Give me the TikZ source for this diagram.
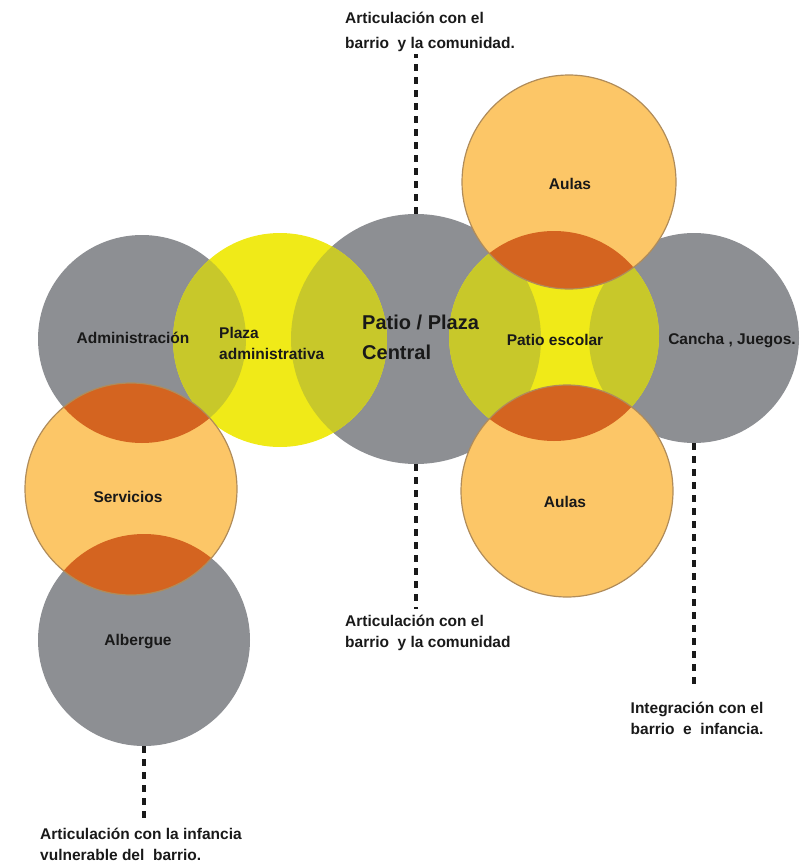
\documentclass[tikz,border=0pt]{standalone}
\usepackage{fontspec}
\setmainfont{Liberation Sans}
\definecolor{cgray}{RGB}{141,143,147}
\definecolor{cyel}{RGB}{240,234,24}
\definecolor{colive}{RGB}{200,200,42}
\definecolor{corange}{RGB}{252,198,103}
\definecolor{cdark}{RGB}{212,100,32}
\definecolor{cline}{RGB}{176,140,90}
\definecolor{ctext}{RGB}{25,25,25}
\begin{document}
\begin{tikzpicture}[x=1pt,y=-1pt,
  disc/.style={circle,inner sep=0pt,minimum size=#1},
  txt/.style={font=\bfseries\fontsize{15.5}{21}\selectfont,text=ctext,inner sep=0pt},
  bigtxt/.style={font=\bfseries\fontsize{20}{30}\selectfont,text=ctext,inner sep=0pt},
  dashline/.style={draw=ctext,line width=3.2pt,dash pattern=on 7pt off 6pt}]
\useasboundingbox (0,0) rectangle (803,864);
% gray discs
\node[disc=208pt,fill=cgray] (adm) at (142,339) {};
\node[disc=250pt,fill=cgray] (cen) at (416,339) {};
\node[disc=210pt,fill=cgray] (can) at (694,338) {};
\node[disc=212pt,fill=cgray] (alb) at (144,640) {};
% yellow discs
\node[disc=214pt,fill=cyel] (plz) at (280,340) {};
\node[disc=210pt,fill=cyel] (esc) at (554,336) {};
% olive overlaps
\begin{scope}\clip (plz.center) circle[radius=107];
  \fill[colive] (adm.center) circle[radius=104];
  \fill[colive] (cen.center) circle[radius=125];
\end{scope}
\begin{scope}\clip (esc.center) circle[radius=105];
  \fill[colive] (cen.center) circle[radius=125];
  \fill[colive] (can.center) circle[radius=105];
\end{scope}
% orange discs
\node[disc=212pt,fill=corange] (ser) at (131,489) {};
\node[disc=214pt,fill=corange] (aut) at (569,182) {};
\node[disc=212pt,fill=corange] (aub) at (567,491) {};
% dark orange lenses
\begin{scope}\clip (ser.center) circle[radius=106];
  \fill[cdark] (adm.center) circle[radius=104];
  \fill[cdark] (alb.center) circle[radius=106];
\end{scope}
\begin{scope}\clip (esc.center) circle[radius=105];
  \fill[cdark] (aut.center) circle[radius=107];
  \fill[cdark] (aub.center) circle[radius=106];
\end{scope}
% outlines of orange discs
\draw[cline,line width=1.2pt] (ser.center) circle[radius=106];
\draw[cline,line width=1.2pt] (aut.center) circle[radius=107];
\draw[cline,line width=1.2pt] (aub.center) circle[radius=106];
% texts in discs
\node[txt] (tadm) at (133,338) {Administración};
\node[txt,align=left,anchor=west] (tplz) at (219,343) {Plaza\\administrativa};
\node[bigtxt,align=left,anchor=west] (tcen) at (362,337) {Patio / Plaza\\Central};
\node[txt] (taut) at (570,184) {Aulas};
\node[txt] (tesc) at (555,340) {Patio escolar};
\node[txt] (tcan) at (732,341) {Cancha , Juegos.};
\node[txt] (taub) at (565,502) {Aulas};
\node[txt] (tser) at (128,497) {Servicios};
\node[txt] (talb) at (138,642) {Albergue};
% annotation texts
\node[txt,align=left,anchor=west,font=\bfseries\fontsize{15.5}{25}\selectfont] (ltop) at (345,32) {Articulación con el\\barrio\ \ y la comunidad.};
\node[txt,align=left,anchor=west] (lmid) at (345,633) {Articulación con el\\barrio\ \ y la comunidad};
\node[txt,align=center] (lrig) at (697,718) {Integración con el\\barrio\ \ e\ \ infancia.};
\node[txt,align=left,anchor=west] (lbot) at (40,844) {Articulación con la infancia\\vulnerable del\ \ barrio.};
% dashed connectors
\draw[dashline] (cen.north) -- ([yshift=-2pt]cen.north |- ltop.south);
\draw[dashline] (cen.south) -- ([yshift=6pt]cen.south |- lmid.north);
\draw[dashline] (can.south) -- ([yshift=12pt]can.south |- lrig.north);
\draw[dashline] (alb.south) -- ([yshift=10pt]alb.south |- lbot.north);
\end{tikzpicture}
\end{document}
